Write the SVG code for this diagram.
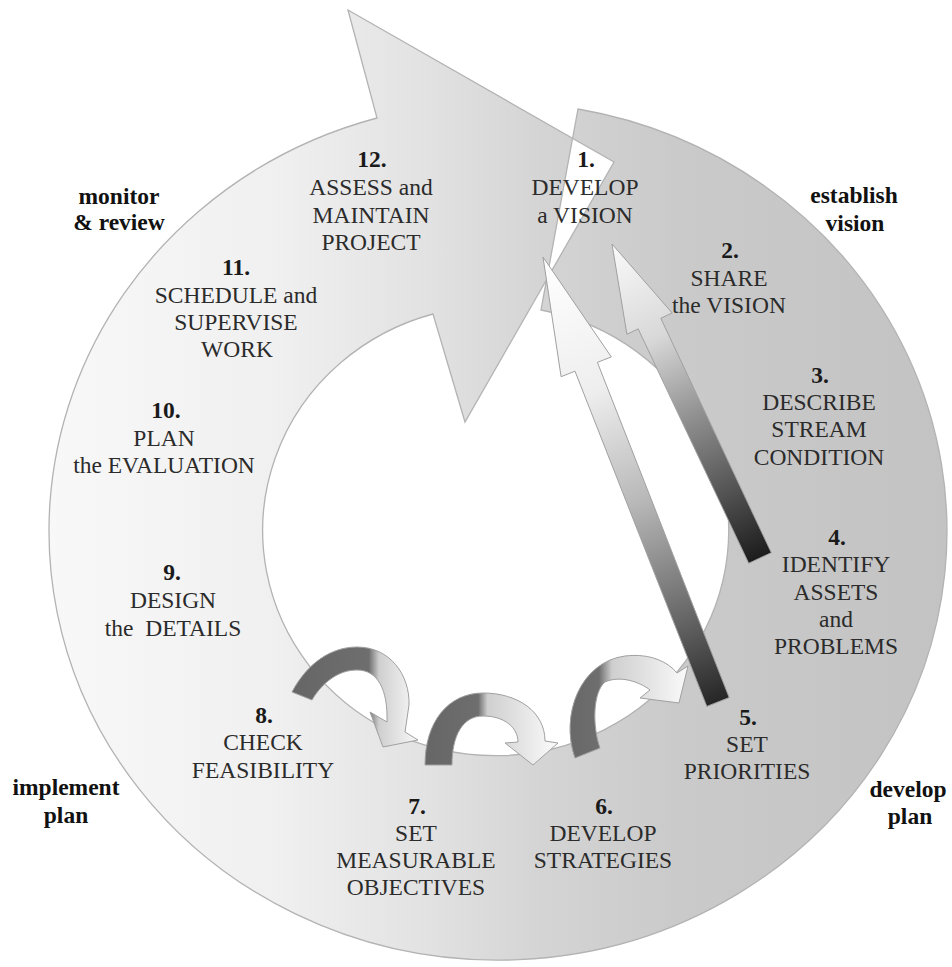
<svg xmlns="http://www.w3.org/2000/svg" width="952" height="967" viewBox="0 0 952 967">
<defs>
  <linearGradient id="ringGrad" gradientUnits="userSpaceOnUse" x1="50" y1="0" x2="947" y2="0">
    <stop offset="0" stop-color="#f8f8f8"/>
    <stop offset="0.25" stop-color="#f0f0f0"/>
    <stop offset="0.42" stop-color="#e2e2e2"/>
    <stop offset="0.55" stop-color="#d4d4d4"/>
    <stop offset="0.7" stop-color="#cacaca"/>
    <stop offset="1" stop-color="#c3c3c3"/>
  </linearGradient>
  <linearGradient id="gA" gradientUnits="userSpaceOnUse" x1="543" y1="257" x2="718" y2="702">
    <stop offset="0" stop-color="#ffffff"/>
    <stop offset="0.3" stop-color="#eeeeee"/>
    <stop offset="0.55" stop-color="#b8b8b8"/>
    <stop offset="0.8" stop-color="#6a6a6a"/>
    <stop offset="1" stop-color="#262626"/>
  </linearGradient>
  <linearGradient id="gB" gradientUnits="userSpaceOnUse" x1="612" y1="244" x2="760" y2="558">
    <stop offset="0" stop-color="#fafafa"/>
    <stop offset="0.3" stop-color="#d8d8d8"/>
    <stop offset="0.55" stop-color="#909090"/>
    <stop offset="0.8" stop-color="#505050"/>
    <stop offset="1" stop-color="#1c1c1c"/>
  </linearGradient>
  <linearGradient id="gC1" gradientUnits="userSpaceOnUse" x1="292" y1="0" x2="420" y2="0">
    <stop offset="0" stop-color="#666666"/>
    <stop offset="0.6" stop-color="#6e6e6e"/>
    <stop offset="0.68" stop-color="#cfcfcf"/>
    <stop offset="1" stop-color="#fbfbfb"/>
  </linearGradient>
  <linearGradient id="gC2" gradientUnits="userSpaceOnUse" x1="425" y1="0" x2="558" y2="0">
    <stop offset="0" stop-color="#666666"/>
    <stop offset="0.4" stop-color="#6e6e6e"/>
    <stop offset="0.47" stop-color="#cfcfcf"/>
    <stop offset="1" stop-color="#fbfbfb"/>
  </linearGradient>
  <linearGradient id="gC3" gradientUnits="userSpaceOnUse" x1="560" y1="0" x2="690" y2="0">
    <stop offset="0" stop-color="#666666"/>
    <stop offset="0.3" stop-color="#6e6e6e"/>
    <stop offset="0.4" stop-color="#cfcfcf"/>
    <stop offset="1" stop-color="#fbfbfb"/>
  </linearGradient>
</defs>
<style>
  .ring { fill: url(#ringGrad); fill-rule: evenodd; stroke: #b3b3b3; stroke-width: 1.3; }
  .arrow { stroke: #a0a0a0; stroke-width: 1; stroke-linejoin: miter; }
  .lbl { font-family: "Liberation Serif", "Times New Roman", serif; font-size: 23.5px; fill: #2b2b2b; text-anchor: middle; }
  .num { font-weight: bold; fill: #1a1a1a; }
  .phase { font-family: "Liberation Serif", "Times New Roman", serif; font-size: 23.5px; font-weight: bold; fill: #111111; text-anchor: middle; }
</style>
<rect x="0" y="0" width="952" height="967" fill="#ffffff"/>

<g id="cycle-ring">
  <path class="ring" d="M578,109 A449,429 0 1,1 377,118 L348,10 L614,162 L465,422 L433,314 A233,225 0 1,0 541,310 Z"/>
</g>

<g id="connectors">
  <path id="arrow-5-to-1" class="arrow" fill="url(#gA)" d="M543,257 L611.3,356.9 L597.4,362.4 L729.2,697.6 L706.8,706.4 L575,371.2 L561.1,376.7 Z"/>
  <path id="arrow-4-to-2" class="arrow" fill="url(#gB)" d="M612,244 L672.1,312.9 L660.8,318.3 L771.3,552.7 L748.7,563.3 L638.2,328.9 L626.9,334.3 Z"/>
  <path id="arrow-8-to-7" class="arrow" fill="url(#gC1)" d="M292,692 C308,662 332,647 357,647 C390,647 410,675 409,705 L405,732 L418,740 L383,747 L370,712 L387,722 C388,690 378,670 357,670 C338,670 322,683 312,700 Z"/>
  <path id="arrow-7-to-6" class="arrow" fill="url(#gC2)" d="M425,765 C425,722 448,693 483,693 C518,693 545,712 545,741 L558,743 L533,765 L505,743 L518,742 C518,728 505,716 483,716 C463,716 452,735 452,765 Z"/>
  <path id="arrow-6-to-5" class="arrow" fill="url(#gC3)" d="M575,758 C560,715 580,662 625,656 C650,653 668,662 677,673 L688,666 L679,703 L640,698 L650,690 C640,682 620,675 605,682 C593,692 592,725 600,748 Z"/>
</g>

<g id="step1">
  <text class="lbl num" x="586" y="167">1.</text>
  <text class="lbl" x="585" y="195">DEVELOP</text>
  <text class="lbl" x="585" y="223">a VISION</text>
</g>
<g id="step2">
  <text class="lbl num" x="730" y="258">2.</text>
  <text class="lbl" x="729" y="286">SHARE</text>
  <text class="lbl" x="729" y="313">the VISION</text>
</g>
<g id="step3">
  <text class="lbl num" x="820" y="383">3.</text>
  <text class="lbl" x="819" y="410">DESCRIBE</text>
  <text class="lbl" x="819" y="437">STREAM</text>
  <text class="lbl" x="819" y="465">CONDITION</text>
</g>
<g id="step4">
  <text class="lbl num" x="837" y="545">4.</text>
  <text class="lbl" x="836" y="572">IDENTIFY</text>
  <text class="lbl" x="836" y="600">ASSETS</text>
  <text class="lbl" x="836" y="627">and</text>
  <text class="lbl" x="836" y="654">PROBLEMS</text>
</g>
<g id="step5">
  <text class="lbl num" x="748" y="725">5.</text>
  <text class="lbl" x="747" y="752">SET</text>
  <text class="lbl" x="747" y="779">PRIORITIES</text>
</g>
<g id="step6">
  <text class="lbl num" x="604" y="814">6.</text>
  <text class="lbl" x="603" y="841">DEVELOP</text>
  <text class="lbl" x="603" y="868">STRATEGIES</text>
</g>
<g id="step7">
  <text class="lbl num" x="417" y="814">7.</text>
  <text class="lbl" x="416" y="841">SET</text>
  <text class="lbl" x="416" y="868">MEASURABLE</text>
  <text class="lbl" x="416" y="895">OBJECTIVES</text>
</g>
<g id="step8">
  <text class="lbl num" x="264" y="723">8.</text>
  <text class="lbl" x="263" y="750">CHECK</text>
  <text class="lbl" x="263" y="778">FEASIBILITY</text>
</g>
<g id="step9">
  <text class="lbl num" x="172" y="580">9.</text>
  <text class="lbl" x="173" y="608">DESIGN</text>
  <text class="lbl" x="173" y="636" style="white-space:pre">the  DETAILS</text>
</g>
<g id="step10">
  <text class="lbl num" x="166" y="418">10.</text>
  <text class="lbl" x="164" y="446">PLAN</text>
  <text class="lbl" x="164" y="473">the EVALUATION</text>
</g>
<g id="step11">
  <text class="lbl num" x="236" y="275">11.</text>
  <text class="lbl" x="236" y="303">SCHEDULE and</text>
  <text class="lbl" x="236" y="330">SUPERVISE</text>
  <text class="lbl" x="237" y="357">WORK</text>
</g>
<g id="step12">
  <text class="lbl num" x="372" y="167">12.</text>
  <text class="lbl" x="371" y="195">ASSESS and</text>
  <text class="lbl" x="371" y="223">MAINTAIN</text>
  <text class="lbl" x="371" y="250">PROJECT</text>
</g>

<g id="phase-monitor">
  <text class="phase" x="119" y="204">monitor</text>
  <text class="phase" x="119" y="230">&amp; review</text>
</g>
<g id="phase-establish">
  <text class="phase" x="854" y="203">establish</text>
  <text class="phase" x="855" y="231">vision</text>
</g>
<g id="phase-implement">
  <text class="phase" x="66" y="795">implement</text>
  <text class="phase" x="66" y="823">plan</text>
</g>
<g id="phase-develop">
  <text class="phase" x="908" y="797">develop</text>
  <text class="phase" x="910" y="824">plan</text>
</g>
</svg>
